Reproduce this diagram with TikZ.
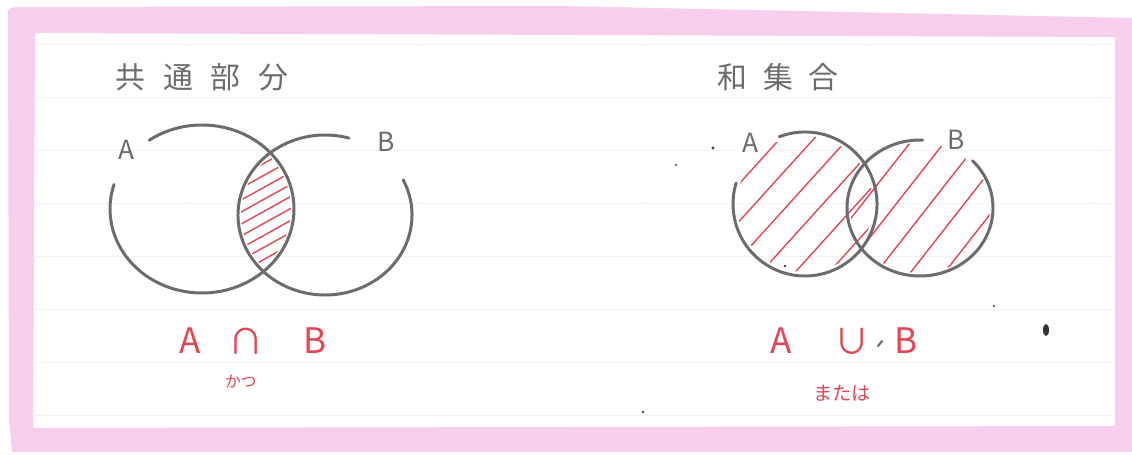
\documentclass[tikz,border=0pt]{standalone}
\usepackage{fontspec}
\setmainfont{Noto Sans CJK JP}
\usetikzlibrary{positioning}
\definecolor{pencilgray}{RGB}{108,108,108}
\definecolor{penred}{RGB}{226,70,84}
\definecolor{marker}{RGB}{247,206,238}
\definecolor{ruled}{RGB}{222,226,230}
\tikzset{
  pencil/.style={draw=pencilgray, line width=1.7pt, line cap=round},
  hatch/.style={draw=penred, line width=0.8pt, line cap=round},
  titletext/.style={text=pencilgray, font=\fontsize{17}{17}\selectfont, inner sep=0pt},
  setlabel/.style={text=pencilgray, font=\fontsize{15}{15}\selectfont, inner sep=0pt},
  redsym/.style={text=penred, font=\fontsize{20}{20}\selectfont, inner sep=0pt},
  rednote/.style={text=penred, font=\fontsize{9}{9}\selectfont, inner sep=0pt},
  speck/.style={fill=black!75},
}
\begin{document}
\begin{tikzpicture}[x=0.02cm, y=-0.02cm]
  \useasboundingbox (0,0) rectangle (1132,455);
  \fill[white] (0,0) rectangle (1132,455);
  \fill[marker, even odd rule]
       (8,16) .. controls (8,8) .. (18,7) -- (560,6) -- (1132,18)
       -- (1132,452) -- (12,452) -- (9,420) -- cycle
       (35,33) -- (1115,37) -- (1115,426) -- (33,428) -- cycle;
  \foreach \y in {44,97,150,203,256,309,362,415}
    \draw[ruled, line width=0.5pt, densely dotted] (36,\y) -- (1114,\y);
  % intersection
  \node[titletext] (ttl1) at (202,77)
       {共\hspace{10pt}通\hspace{10pt}部\hspace{10pt}分};
  \begin{scope}
    \clip (202,209) ellipse[x radius=89, y radius=81];
    \clip (325,215) ellipse[x radius=84, y radius=77];
    \foreach \y in {185,197,...,293}
      \draw[hatch] (225,\y) -- ++(90,-50);
  \end{scope}
  \draw[pencil] (202,209) ++(235:92 and 84)
       arc[start angle=235, end angle=557, x radius=92, y radius=84];
  \draw[pencil] (325,215) ++(334:87 and 80)
       arc[start angle=334, end angle=646, x radius=87, y radius=80];
  \node[setlabel] (la1) at (127,150) {A};
  \node[setlabel] (lb1) at (386,142) {B};
  \node[redsym] (ra1) at (190,341) {A};
  \node[redsym, on grid, right=1.12cm of ra1] (rcap) {∩};
  \node[redsym, on grid, right=1.38cm of rcap] (rb1) {B};
  \node[rednote, on grid, below=0.82cm of rcap, xshift=-0.1cm] (katsu) {かつ};
  % union
  \node[titletext] (ttl2) at (778,77)
       {和\hspace{9pt}集\hspace{9pt}合};
  \begin{scope}
    \clip (805,204) circle[radius=68];
    \foreach \x in {600,634,...,970}
      \draw[hatch] (\x,300) -- ++(190,-210);
  \end{scope}
  \begin{scope}
    \clip (920,208) ellipse[x radius=70, y radius=65];
    \foreach \x in {617,651,...,990}
      \draw[hatch] (\x,300) -- ++(180,-230);
  \end{scope}
  \draw[pencil] (805,204) ++(249:72 and 72)
       arc[start angle=249, end angle=557, x radius=72, y radius=72];
  \draw[pencil] (920,208) ++(316:73 and 68)
       arc[start angle=316, end angle=632, x radius=73, y radius=68];
  \node[setlabel] (la2) at (751,143) {A};
  \node[setlabel] (lb2) at (956,140) {B};
  \node[redsym] (ra2) at (781,341) {A};
  \node[redsym, on grid, right=1.42cm of ra2] (rcup) {∪};
  \node[redsym, on grid, right=1.08cm of rcup] (rb2) {B};
  \node[rednote, font=\fontsize{11}{11}\selectfont, on grid, below=1.04cm of rcup,
        xshift=-0.2cm] (matawa) {または};
  \draw[pencilgray, line width=1.2pt, line cap=round] (878,346) -- (882,341);
  \fill[speck] (713,148) circle[radius=1.6];
  \fill[speck] (676,165) circle[radius=1.2];
  \fill[speck] (643,412) circle[radius=1.4];
  \fill[speck] (994,306) circle[radius=1.2];
  \fill[speck] (785,266) circle[radius=1.4];
  \fill[black!80] (1046,330) ellipse[x radius=3, y radius=6];
\end{tikzpicture}
\end{document}
